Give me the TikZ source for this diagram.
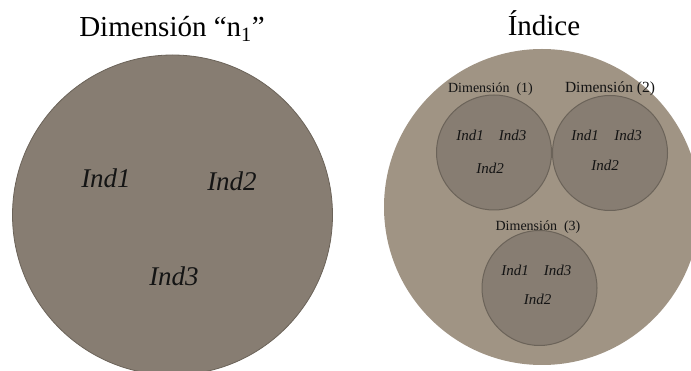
\documentclass[tikz,border=0pt]{standalone}
\usepackage{fontspec}
\setmainfont{Liberation Serif}
\definecolor{dimfill}{HTML}{877D72}
\definecolor{dimline}{HTML}{6B6359}
\definecolor{idxfill}{HTML}{A09484}
\definecolor{txt}{HTML}{141414}
\begin{document}
\begin{tikzpicture}[x=1pt,y=-1pt,
  title/.style={anchor=base,inner sep=0pt,font=\fontsize{29}{32}\selectfont},
  bigdim/.style={circle,inner sep=0pt,minimum size=320pt,fill=dimfill,draw=dimline,line width=0.8pt},
  index/.style={circle,inner sep=0pt,minimum size=316pt,fill=idxfill},
  subdim/.style={circle,inner sep=0pt,minimum size=115pt,fill=dimfill,draw=dimline,line width=1pt},
  bigind/.style={anchor=base,inner sep=0pt,text=txt,font=\fontsize{27}{30}\selectfont\itshape},
  smallind/.style={anchor=base,inner sep=0pt,text=txt,font=\fontsize{15}{17}\selectfont\itshape},
  dimlabel/.style={anchor=base,inner sep=0pt,text=txt,font=\fontsize{14}{16}\selectfont}]
\useasboundingbox (0,0) rectangle (691,371);

% left: a single dimension with its indicators
\node[title] (t1) at (172,37) {Dimensión “n\textsubscript{1}”};
\node[bigdim] (d0) at (172.5,215) {};
\node[bigind] (a1) at (106,188) {Ind1};
\node[bigind] (a2) at (232,191) {Ind2};
\node[bigind] (a3) at (174,286) {Ind3};

% right: the index grouping three dimensions
\node[title] (t2) at (544,36) {Índice};
\node[index] (ix) at (542,207) {};

\node[subdim] (c1) at (494,152.5) {};
\node[subdim] (c2) at (610,153) {};
\node[subdim] (c3) at (539.5,288) {};

\node[dimlabel] (l1) at (490.5,92.5) {Dimensión\ \ (1)};
\node[dimlabel,font=\fontsize{15.5}{17}\selectfont] (l2) at (610,93) {Dimensión (2)};
\node[dimlabel] (l3) at (538,230.5) {Dimensión\ \ (3)};

\node[smallind] (p1) at (470,140.5) {Ind1};
\node[smallind] (p3) at (512.5,140.5) {Ind3};
\node[smallind] (p2) at (490,174) {Ind2};

\node[smallind] (q1) at (585,140.5) {Ind1};
\node[smallind] (q3) at (628,140.5) {Ind3};
\node[smallind] (q2) at (605,170.5) {Ind2};

\node[smallind] (r1) at (515,276) {Ind1};
\node[smallind] (r3) at (557.5,276) {Ind3};
\node[smallind] (r2) at (537.5,305) {Ind2};
\end{tikzpicture}
\end{document}
